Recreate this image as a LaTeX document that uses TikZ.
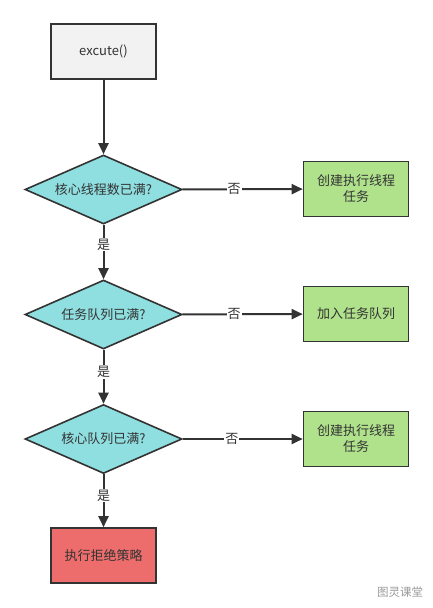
\documentclass[tikz,border=0pt]{standalone}
\usepackage{fontspec}
\setmainfont{Noto Sans CJK SC}
\usetikzlibrary{shapes.geometric,arrows.meta}
\definecolor{bord}{HTML}{333333}
\definecolor{fonddebut}{HTML}{F2F2F3}
\definecolor{fondtest}{HTML}{8FDEE0}
\definecolor{fondaction}{HTML}{B0E28C}
\definecolor{fondrejet}{HTML}{EC6D6C}
\definecolor{filigrane}{HTML}{9A9A9A}

\begin{document}
\begin{tikzpicture}[x=1pt,y=-1pt]
%
% Styles
%
\tikzset{every node/.style={font=\fontsize{13}{16}\selectfont, text=bord}};%
\tikzset{fleche/.style={draw=bord, line width=2pt, -{Triangle[length=11pt,width=10pt]}}};%
\tikzset{boite/.style={rectangle, draw=bord, line width=1.6pt, minimum width=105pt, minimum height=55pt, align=center, inner sep=2pt}};%
\tikzset{test/.style={diamond, aspect=2.3, draw=bord, line width=1.6pt, fill=fondtest, minimum width=157pt, minimum height=69pt, inner sep=0pt}};%
\tikzset{etiquette/.style={fill=white, inner sep=1pt}};%

%
% Macros
%
\pgfmathsetmacro{\xgauche}{103.5};%
\pgfmathsetmacro{\xdroite}{356};%

\useasboundingbox (0,0) rectangle (433,608);%

%
% Nodes
%
\node[boite, fill=fonddebut] (debut) at (\xgauche,51.5) {excute()};%
\node[test] (testcoeur) at (\xgauche,189.5) {核心线程数已满?};%
\node[test] (testfile) at (\xgauche,314.5) {任务队列已满?};%
\node[test] (testmax) at (\xgauche,439) {核心队列已满?};%
\node[boite, fill=fondrejet] (rejet) at (\xgauche,555.5) {执行拒绝策略};%
\node[boite, fill=fondaction] (creer) at (\xdroite,189) {创建执行线程\\任务};%
\node[boite, fill=fondaction] (ajout) at (\xdroite,314) {加入任务队列};%
\node[boite, fill=fondaction] (creerbis) at (\xdroite,439) {创建执行线程\\任务};%
\node[text=filigrane, font=\fontsize{11.5}{13}\selectfont] (marque) at (400,592) {图灵课堂};%

%
% Connectors
%
\draw[fleche] (debut) -- (testcoeur);%
\draw[fleche] (testcoeur) -- node[etiquette, pos=0.43] {否} (creer);%
\draw[fleche] (testcoeur) -- node[etiquette, pos=0.36] {是} (testfile);%
\draw[fleche] (testfile) -- node[etiquette, pos=0.43] {否} (ajout);%
\draw[fleche] (testfile) -- node[etiquette, pos=0.41] {是} (testmax);%
\draw[fleche] (testmax) -- node[etiquette, pos=0.41] {否} (creerbis);%
\draw[fleche] (testmax) -- node[etiquette, pos=0.4] {是} (rejet);%
\end{tikzpicture}
\end{document}
